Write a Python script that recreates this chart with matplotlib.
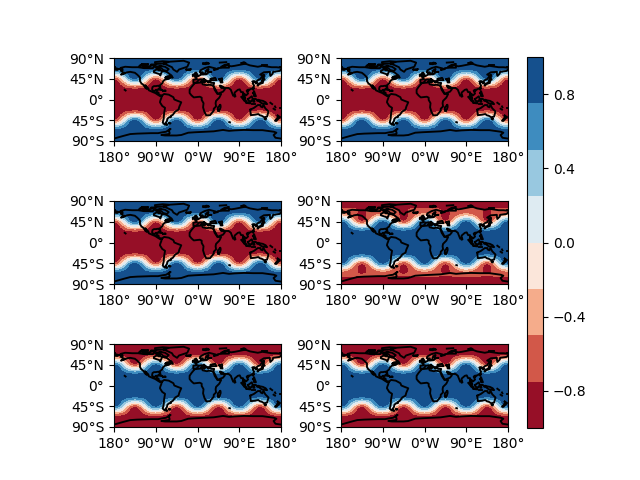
import numpy as np
import matplotlib
matplotlib.use('Agg')
import matplotlib.pyplot as plt

# values, lat 0..90 every 5 deg, one row per lat
# columns = lon offset 0, 7.5, 15, 22.5, 30, 37.5, 45 from a wave crest (repeats every 90 deg)
lat_rows = [0, 5, 10, 15, 20, 25, 30, 35, 40, 45, 50, 55, 60, 65, 70, 75, 80, 85, 90]
lon_cols = list(np.arange(-180, 180.1, 7.5))
col_pattern = [0, 1, 2, 3, 4, 5, 6, 5, 4, 3, 2, 1]

blue_equator = [
    [1.00, 1.00, 1.00, 1.00, 1.00, 1.00, 1.00],
    [1.00, 1.00, 1.00, 1.00, 1.00, 1.00, 1.00],
    [0.99, 0.99, 0.99, 0.99, 0.99, 0.99, 0.99],
    [0.98, 0.98, 0.98, 0.97, 0.97, 0.97, 0.97],
    [0.95, 0.94, 0.94, 0.92, 0.91, 0.90, 0.90],
    [0.92, 0.91, 0.88, 0.83, 0.79, 0.75, 0.74],
    [0.92, 0.89, 0.81, 0.69, 0.57, 0.48, 0.45],
    [0.95, 0.89, 0.72, 0.49, 0.26, 0.10, 0.04],
    [0.92, 0.83, 0.59, 0.26, -0.07, -0.32, -0.41],
    [0.75, 0.65, 0.38, 0.00, -0.38, -0.65, -0.75],
    [0.41, 0.32, 0.07, -0.26, -0.59, -0.83, -0.92],
    [-0.04, -0.10, -0.26, -0.49, -0.72, -0.89, -0.95],
    [-0.45, -0.48, -0.57, -0.69, -0.81, -0.89, -0.92],
    [-0.74, -0.75, -0.79, -0.83, -0.88, -0.91, -0.92],
    [-0.90, -0.90, -0.91, -0.92, -0.94, -0.94, -0.95],
    [-0.97, -0.97, -0.97, -0.97, -0.98, -0.98, -0.98],
    [-0.99, -0.99, -0.99, -0.99, -0.99, -0.99, -0.99],
    [-1.00, -1.00, -1.00, -1.00, -1.00, -1.00, -1.00],
    [-1.00, -1.00, -1.00, -1.00, -1.00, -1.00, -1.00],
]

# panel 4 has a paler ring around 65 deg with narrow dark towers at the wave troughs
panel4_north = [
    [1.00, 1.00, 1.00, 1.00, 1.00, 1.00, 1.00],
    [1.00, 1.00, 1.00, 1.00, 1.00, 1.00, 1.00],
    [0.99, 0.99, 0.99, 0.99, 0.99, 0.99, 0.99],
    [0.98, 0.98, 0.98, 0.97, 0.97, 0.97, 0.97],
    [0.95, 0.94, 0.94, 0.92, 0.91, 0.90, 0.90],
    [0.92, 0.91, 0.88, 0.83, 0.79, 0.75, 0.74],
    [0.92, 0.89, 0.81, 0.69, 0.57, 0.48, 0.45],
    [0.95, 0.89, 0.72, 0.49, 0.26, 0.10, 0.04],
    [0.92, 0.83, 0.59, 0.26, -0.07, -0.32, -0.41],
    [0.75, 0.65, 0.38, 0.00, -0.38, -0.65, -0.74],
    [0.41, 0.32, 0.07, -0.26, -0.59, -0.77, -0.84],
    [-0.04, -0.10, -0.26, -0.49, -0.66, -0.78, -0.86],
    [-0.42, -0.45, -0.52, -0.62, -0.70, -0.78, -0.88],
    [-0.58, -0.60, -0.62, -0.66, -0.71, -0.78, -0.86],
    [-0.68, -0.68, -0.69, -0.70, -0.72, -0.76, -0.82],
    [-0.76, -0.76, -0.76, -0.76, -0.77, -0.78, -0.82],
    [-0.92, -0.92, -0.92, -0.92, -0.92, -0.92, -0.92],
    [-1.00, -1.00, -1.00, -1.00, -1.00, -1.00, -1.00],
    [-1.00, -1.00, -1.00, -1.00, -1.00, -1.00, -1.00],
]
panel4_south = [
    [1.00, 1.00, 1.00, 1.00, 1.00, 1.00, 1.00],
    [1.00, 1.00, 1.00, 1.00, 1.00, 1.00, 1.00],
    [0.99, 0.99, 0.99, 0.99, 0.99, 0.99, 0.99],
    [0.98, 0.98, 0.98, 0.97, 0.97, 0.97, 0.97],
    [0.95, 0.94, 0.94, 0.92, 0.91, 0.90, 0.90],
    [0.92, 0.91, 0.88, 0.83, 0.79, 0.75, 0.74],
    [0.92, 0.89, 0.81, 0.69, 0.57, 0.48, 0.45],
    [0.95, 0.89, 0.72, 0.49, 0.26, 0.10, 0.04],
    [0.92, 0.83, 0.59, 0.26, -0.07, -0.32, -0.41],
    [0.75, 0.65, 0.38, 0.00, -0.38, -0.65, -0.74],
    [0.41, 0.32, 0.07, -0.26, -0.59, -0.77, -0.84],
    [-0.04, -0.10, -0.26, -0.49, -0.66, -0.78, -0.86],
    [-0.42, -0.45, -0.52, -0.62, -0.70, -0.78, -0.88],
    [-0.58, -0.60, -0.62, -0.66, -0.70, -0.78, -0.85],
    [-0.66, -0.66, -0.67, -0.68, -0.69, -0.71, -0.74],
    [-0.80, -0.80, -0.80, -0.80, -0.80, -0.80, -0.80],
    [-0.92, -0.92, -0.92, -0.92, -0.92, -0.92, -0.92],
    [-1.00, -1.00, -1.00, -1.00, -1.00, -1.00, -1.00],
    [-1.00, -1.00, -1.00, -1.00, -1.00, -1.00, -1.00],
]

levels = [-1, -0.75, -0.5, -0.25, 0, 0.25, 0.5, 0.75, 1]
cbar_ticks = [-0.8, -0.4, 0, 0.4, 0.8]
xticks = [-180, -90, 0, 90, 180]
xlabels = ['180°', '90°W', '0°W', '90°E', '180°']
yticks = [-90, -45, 0, 45, 90]
ylabels = ['90°S', '45°S', '0°', '45°N', '90°N']

# rough coastlines, lon/lat
coasts = [
    # n america
    [(-168,66),(-162,67),(-166,68.5),(-156,71),(-141,70),(-128,70),(-115,68),(-108,68),(-96,68),(-94,72),(-88,68),(-82,69),(-86,66),(-94,62),(-94,59),(-88,57),(-82,55),(-80,52),(-79,55),(-77,60),(-78,62),(-70,61),(-65,59),(-60,55),(-56,52),(-66,50),(-70,47),(-65,49),(-64,46),(-60,46),(-66,44),(-70,43),(-74,40),(-76,35),(-81,31),(-80,25),(-82,27),(-84,30),(-90,29),(-94,29),(-97,27),(-98,22),(-95,18.5),(-91,19),(-90,21),(-87,21),(-88,16),(-84,15),(-83,10),(-79,9),(-77,8),(-80,7),(-85,10),(-91,14),(-96,16),(-105,20),(-106,24),(-113,31),(-109,23),(-112,25),(-117,32),(-121,35),(-124,40),(-124,48),(-130,54),(-135,58),(-145,60),(-152,59),(-158,56),(-165,54),(-158,58),(-162,60),(-165,62),(-161,64),(-168,66)],
    # s america
    [(-77,8),(-72,12),(-62,10.5),(-52,5),(-50,0),(-44,-2.5),(-35,-6),(-39,-15),(-41,-22),(-48,-26),(-53,-33),(-58,-36),(-57,-38),(-62,-39),(-65,-42),(-66,-47),(-69,-51),(-65,-55),(-71,-54),(-75,-50),(-73,-42),(-72,-30),(-70,-18),(-76,-14),(-81,-6),(-80,-2),(-78,3),(-77,8)],
    # africa
    [(-6,35.5),(10,37),(11,33),(20,31),(25,32),(32,31),(35,28),(37,21),(43,12),(51,12),(47,4),(40,-3),(39,-8),(40,-15),(35,-20),(35,-24),(32,-28),(27,-34),(19,-34.5),(15,-27),(12,-17),(13,-8),(9,-1),(9,4),(5,6),(-4,5),(-8,4.5),(-13,9),(-17,14),(-17,21),(-13,27),(-6,35.5)],
    # eurasia, splits at the date line
    [(-6,36),(-9,37),(-9,43),(-1,44),(-4,48),(2,51),(8,54),(8,57),(11,54),(20,55),(24,59),(30,60),(23,60),(21,63),(24,66),(18,62),(17,57),(13,55.5),(11,59),(5,59),(6,63),(15,68),(25,71),(40,67),(35,64),(44,66),(44,68),(54,69),(68,69),(67,73),(73,72),(80,73),(90,75),(100,77),(105,77),(113,74),(130,71),(140,73),(160,70),(170,70),(180,69)],
    [(-180,69),(-170,66),(-173,64),(-180,65)],
    [(180,65),(177,62),(163,60),(162,56),(157,51),(156,57),(156,60),(143,59),(135,54),(141,52),(135,44),(130,42),(127,39),(129,36),(126,34.5),(126,38),(122,40),(118,39),(122,37),(119,35),(122,30),(120,26),(114,22),(108,21),(106,19),(109,13),(105,9),(100,13),(103,2),(101,3),(98,8),(98,16),(94,16),(91,22),(87,21),(80,15),(80,10),(77,8),(73,18),(72,21),(67,25),(57,25),(56,27),(50,30),(48,30),(51,25),(56,25),(59,22),(55,17),(45,13),(43,13),(39,21),(35,28),(34.5,31),(36,36),(30,36),(27,37),(26,40),(23,40),(23,36.5),(19,41),(13,45),(18,40),(16,38),(12,42),(9,44),(3,43),(0,39),(-2,37),(-6,36)],
    [(28,41),(28,45),(33,46),(38,47),(41,42),(35,42),(28,41)],
    [(47,44),(53,46),(53,40),(54,37),(50,37),(49,41),(47,44)],
    # arctic
    [(-73,78),(-60,82),(-30,84),(-18,80),(-22,71),(-40,65),(-44,60),(-52,65),(-55,70),(-68,76),(-73,78)],
    [(-80,73),(-70,71),(-62,66),(-66,62),(-74,64),(-78,68),(-89,71),(-80,73)],
    [(-117,70),(-105,69),(-102,72),(-117,73),(-117,70)],
    [(-90,77),(-75,78),(-62,82),(-75,83),(-92,81),(-90,77)],
    [(-125,72),(-117,74),(-123,75),(-125,72)],
    [(-100,74),(-90,74),(-92,76),(-100,76),(-100,74)],
    [(-120,76),(-108,75),(-106,77),(-120,76)],
    [(-85,65),(-80,64),(-83,63),(-85,65)],
    [(12,78),(20,80),(25,78),(17,76.5),(12,78)],
    [(52,71),(57,71),(68,77),(58,75),(52,71)],
    [(48,80),(62,81)],
    [(95,79),(104,79),(100,81),(95,79)],
    [(138,75),(150,75)],
    [(-180,71),(-177,71)],
    [(177,71),(180,71)],
    # atlantic side
    [(-59,48),(-53,47),(-56,51.5),(-59,48)],
    [(-24,65),(-14,66),(-16,63.5),(-22,64),(-24,65)],
    [(-5,50),(1,51),(0,54),(-3,58.5),(-6,57),(-3,54),(-5,52),(-5,50)],
    [(-10,52),(-6,52),(-6,55),(-10,54),(-10,52)],
    [(-84,22),(-75,20),(-80,23),(-84,22)],
    [(-74,18.5),(-68.5,18.5),(-70,20),(-74,18.5)],
    [(-61,-51.5),(-58,-51.5),(-60,-52.3),(-61,-51.5)],
    [(8.5,39),(9.5,41),(9.5,39),(8.5,39)],
    [(13,38),(15.5,38),(15,36.8),(13,38)],
    # asia pacific
    [(130,31),(135,34),(141,36),(141,41),(136,36),(131,34),(130,31)],
    [(140,42),(145,43),(142,45.5),(140,42)],
    [(142,46),(143,54),(142,50),(142,46)],
    [(120,22),(122,25),(120.5,25),(120,22)],
    [(109,18.5),(111,20),(109,20),(109,18.5)],
    [(120,14),(122,18),(124,12),(126,7),(122,7),(121,13),(120,14)],
    [(109,1),(117,7),(119,1),(116,-4),(110,-3),(109,1)],
    [(95,5.5),(104,-2),(106,-6),(101,-3),(95,5.5)],
    [(105,-6.5),(114,-7),(114,-8.5),(106,-7.5),(105,-6.5)],
    [(120,1),(125,1),(121,-1),(123,-5),(120,-5),(120,1)],
    [(131,-1),(141,-3),(147,-6),(150,-10),(143,-9),(138,-8),(133,-4),(131,-1)],
    [(117,-9),(125,-9)],
    [(127,0),(129,-3),(131,-3)],
    [(114,-22),(122,-18),(130,-12),(136,-12),(136,-15),(140,-17),(142,-11),(146,-19),(153,-26),(150,-37),(144,-38.5),(138,-35),(135,-34.5),(131,-31.5),(124,-33),(115,-34),(114,-26),(114,-22)],
    [(145,-41),(148,-41),(147,-43.5),(145,-41)],
    [(173,-35),(178,-38),(175,-41),(173,-39),(174,-36),(173,-35)],
    [(172,-41),(174,-42),(170,-46.5),(167,-46),(172,-41)],
    [(49,-12),(50,-16),(47,-25),(44,-25),(44,-17),(49,-12)],
    [(80,9.5),(82,7),(80,6),(80,9.5)],
    [(164,-20),(167,-22)],
    [(157,-7),(161,-10)],
    [(167,-15),(168,-17)],
    [(177,-18),(179,-18)],
    [(-157,21),(-155,19.5)],
    [(68.5,-49),(70,-49.5)],
    # antarctica
    [(-180,-84.7),(-160,-79),(-145,-75),(-130,-74),(-100,-73),(-85,-73),(-75,-71),(-68,-70),(-58,-64),(-62,-66),(-60,-73),(-62,-75),(-78,-77),(-70,-78),(-45,-78),(-35,-77),(-20,-72),(-5,-71),(15,-70),(35,-69),(55,-66),(68,-68),(80,-67),(100,-66),(120,-66.5),(140,-66.5),(165,-70),(170,-72),(164,-77),(168,-83),(180,-84.7)],
]


def build_grid(north, south, sign):
    north = np.array(north)[:, col_pattern]
    south = np.array(south)[:, col_pattern]
    north = np.hstack([north] * 4 + [north[:, :1]])
    south = np.hstack([south] * 4 + [south[:, :1]])
    return sign * np.vstack([south[::-1], north[1:]])


lon = np.array(lon_cols)
lat = np.concatenate([-np.array(lat_rows)[::-1], np.array(lat_rows)[1:]])

panels = [
    build_grid(blue_equator, blue_equator, -1),
    build_grid(blue_equator, blue_equator, -1),
    build_grid(blue_equator, blue_equator, -1),
    build_grid(panel4_north, panel4_south, 1),
    build_grid(blue_equator, blue_equator, 1),
    build_grid(blue_equator, blue_equator, 1),
]

fig = plt.figure(figsize=(6.4, 4.8), dpi=100)
lefts = [114, 341]
tops = [58, 201, 344]
cs = None
for i, data in enumerate(panels):
    col = 0 if i in (0, 2, 4) else 1
    row = i // 2
    ax = fig.add_axes([lefts[col] / 640, 1 - (tops[row] + 83) / 480, 167 / 640, 83 / 480])
    cs = ax.contourf(lon, lat, data, levels=levels, cmap='RdBu', vmin=-1, vmax=1)
    for seg in coasts:
        xs = [p[0] for p in seg]
        ys = [p[1] for p in seg]
        ax.plot(xs, ys, color='k', lw=1.35, zorder=3)
    ax.set_xlim(-180, 180)
    ax.set_ylim(-90, 90)
    ax.set_xticks(xticks)
    ax.set_xticklabels(xlabels)
    ax.set_yticks(yticks)
    ax.set_yticklabels(ylabels)

cax = fig.add_axes([527 / 640, 1 - 428 / 480, 16 / 640, 371 / 480])
fig.colorbar(cs, cax=cax, ticks=cbar_ticks)

fig.savefig('out.png', dpi=100)
